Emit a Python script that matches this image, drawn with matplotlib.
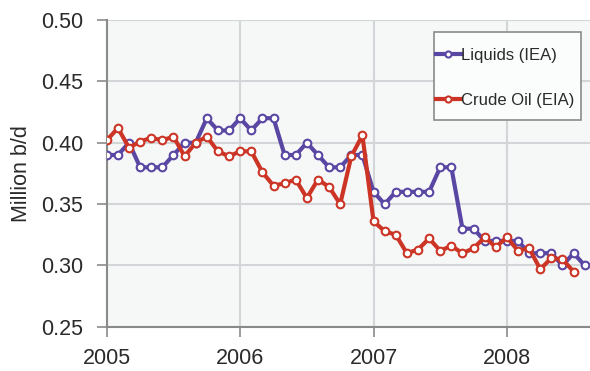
import matplotlib
matplotlib.use("Agg")
import matplotlib.pyplot as plt
from matplotlib.patches import Rectangle
import numpy as np

plt.rcParams['font.family'] = ['Liberation Sans', 'DejaVu Sans']

# 月度数据：2005-01 起
liquids_iea = [
    0.39, 0.39, 0.40, 0.38, 0.38, 0.38, 0.39, 0.40, 0.40, 0.42, 0.41, 0.41,
    0.42, 0.41, 0.42, 0.42, 0.39, 0.39, 0.40, 0.39, 0.38, 0.38, 0.39, 0.39,
    0.36, 0.35, 0.36, 0.36, 0.36, 0.36, 0.38, 0.38, 0.33, 0.33, 0.32, 0.32,
    0.32, 0.32, 0.31, 0.31, 0.31, 0.30, 0.31, 0.30, 0.30,
]
crude_eia = [
    0.402, 0.412, 0.396, 0.401, 0.404, 0.402, 0.405, 0.389, 0.400, 0.405, 0.393, 0.389,
    0.393, 0.393, 0.376, 0.365, 0.367, 0.370, 0.355, 0.370, 0.364, 0.350, 0.389, 0.406,
    0.336, 0.328, 0.325, 0.310, 0.313, 0.322, 0.312, 0.316, 0.310, 0.314, 0.323, 0.315,
    0.323, 0.312, 0.314, 0.297, 0.306, 0.305, 0.295,
]
year_ticks = [2005, 2006, 2007, 2008]
y_ticks = [0.25, 0.30, 0.35, 0.40, 0.45, 0.50]

x_liq = 2005 + np.arange(len(liquids_iea)) / 12
x_crude = 2005 + np.arange(len(crude_eia)) / 12

fig = plt.figure(figsize=(5.9, 3.71), dpi=100)
ax = fig.add_axes([0.181, 0.119, 0.819, 0.827])
ax.set_facecolor("#f6f8f8")

blue = "#5a46a3"
red = "#cc3526"
ax.plot(x_liq, liquids_iea, color=blue, lw=3, marker="o", ms=5.5,
        mfc="white", mec=blue, mew=1.5, label="Liquids (IEA)", zorder=3)
ax.plot(x_crude, crude_eia, color=red, lw=3, marker="o", ms=5.5,
        mfc="white", mec=red, mew=1.5, label="Crude Oil (EIA)", zorder=4)

ax.set_xlim(2005, 2008.623)
ax.set_ylim(0.25, 0.50)
ax.set_xticks(year_ticks)
ax.set_xticklabels([str(y) for y in year_ticks])
ax.set_yticks(y_ticks)
ax.set_yticklabels([f"{v:.2f}" for v in y_ticks])
ax.grid(True, color="#d2d6d8", lw=1.5)
ax.set_axisbelow(True)

for s in ["top", "right"]:
    ax.spines[s].set_visible(False)
for s in ["left", "bottom"]:
    ax.spines[s].set_color("#8a8a8a")
    ax.spines[s].set_linewidth(1.5)

ax.tick_params(axis="both", direction="out", length=7, width=1.2,
               color="#8a8a8a", labelsize=15.5, labelcolor="#2a2a2a")
ax.tick_params(axis="x", pad=8)
ax.tick_params(axis="y", pad=10)
ax.set_ylabel("Million b/d", fontsize=15.5, color="#2a2a2a")
ax.yaxis.set_label_coords(-0.155, 0.5)

# 图例外框单独画，图例本身不带框
frame = Rectangle((0.677, 0.675), 0.305, 0.287, transform=ax.transAxes,
                  facecolor="#fbfcfc", edgecolor="#8a8a8a", lw=1.2, zorder=5)
ax.add_patch(frame)
leg = ax.legend(loc="center left", bbox_to_anchor=(0.682, 0.8127), fontsize=12,
                frameon=False, handlelength=1.45, handletextpad=0.05,
                labelspacing=1.8, borderpad=0, borderaxespad=0,
                markerscale=0.8)
leg.set_zorder(6)
for t in leg.get_texts():
    t.set_color("#2a2a2a")

fig.savefig("out.png", dpi=100)
